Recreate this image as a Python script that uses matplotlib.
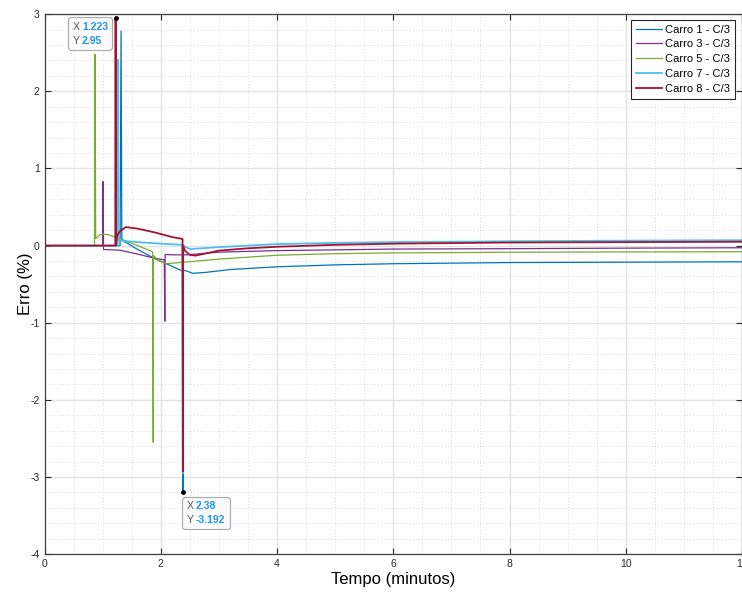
import matplotlib
matplotlib.use("Agg")
import matplotlib.pyplot as plt
from matplotlib.ticker import MultipleLocator
from matplotlib.offsetbox import TextArea, HPacker, VPacker, AnnotationBbox

plt.rcParams['font.family'] = ['Liberation Sans', 'DejaVu Sans']
plt.rcParams['axes.unicode_minus'] = False

# tempo (minutos) / erro (%)
t_c1 = [0, 1.30, 1.317, 1.33, 1.36, 1.6, 1.9, 2.2, 2.37, 2.375, 2.38, 2.385, 2.45, 2.55,
        2.8, 3.2, 4.0, 5.0, 6.0, 8.0, 10.0, 12.0]
e_c1 = [0, 0, 2.78, 0.09, 0.06, -0.05, -0.17, -0.27, -0.33, -0.33, -3.192, -0.32, -0.33, -0.36,
        -0.345, -0.31, -0.275, -0.25, -0.235, -0.22, -0.215, -0.21]

t_c3 = [0, 1.0, 1.007, 1.015, 1.3, 1.6, 1.87, 2.06, 2.07, 2.075, 2.2, 2.45, 3.0, 4.0, 5.0,
        6.0, 8.0, 10.0, 12.0]
e_c3 = [0, 0, 0.83, -0.05, -0.06, -0.11, -0.16, -0.185, -0.98, -0.115, -0.12, -0.12, -0.085,
        -0.065, -0.055, -0.045, -0.04, -0.033, -0.028]

t_c5 = [0, 0.86, 0.87, 0.88, 0.95, 1.0, 1.1, 1.3, 1.5, 1.7, 1.86, 1.87, 1.875, 1.95, 2.1,
        2.4, 3.0, 4.0, 5.0, 6.0, 8.0, 10.0, 12.0]
e_c5 = [0, 0, 2.48, 0.09, 0.14, 0.15, 0.14, 0.09, 0.03, -0.03, -0.08, -2.55, -0.13, -0.19,
        -0.235, -0.215, -0.175, -0.125, -0.105, -0.095, -0.086, -0.082, -0.08]

t_c7 = [0, 0.005, 1.26, 1.265, 1.27, 1.35, 1.7, 2.0, 2.37, 2.38, 2.385, 2.5, 2.7, 3.0,
        4.0, 5.0, 6.0, 8.0, 10.0, 12.0]
e_c7 = [-0.29, 0, 0, 2.41, 0.08, 0.06, 0.04, 0.025, 0.01, -2.95, 0.0, -0.045, -0.035, -0.02,
        0.02, 0.035, 0.045, 0.056, 0.064, 0.07]

t_c8 = [0, 0.005, 1.218, 1.223, 1.228, 1.25, 1.3, 1.4, 1.6, 1.9, 2.2, 2.37, 2.375, 2.38,
        2.385, 2.42, 2.5, 2.6, 3.0, 3.5, 4.0, 5.0, 6.0, 8.0, 10.0, 12.0]
e_c8 = [-0.23, 0, 0, 2.95, 0.0, 0.13, 0.19, 0.24, 0.22, 0.17, 0.11, 0.087, 0.087, -2.93,
        0.0, -0.07, -0.12, -0.13, -0.065, -0.035, -0.015, 0.01, 0.025, 0.04, 0.045, 0.05]

series = [
    ("Carro 1 - C/3", t_c1, e_c1, "#0072BD", 0.9),
    ("Carro 3 - C/3", t_c3, e_c3, "#7E2F8E", 0.9),
    ("Carro 5 - C/3", t_c5, e_c5, "#77AC30", 0.9),
    ("Carro 7 - C/3", t_c7, e_c7, "#4DBEEE", 1.3),
    ("Carro 8 - C/3", t_c8, e_c8, "#A2142F", 1.3),
]

tips = [(1.223, 2.95, "1.223", "2.95", (1, 1), (-5.5, -2.5)),
        (2.38, -3.192, "2.38", "-3.192", (0, 1), (2.5, -6.6))]

fig = plt.figure(figsize=(7.42, 5.92), dpi=100)
ax = fig.add_axes([0.06, 0.064, 0.94, 0.912])

for name, t, e, c, lw in series:
    ax.plot(t, e, color=c, lw=lw, label=name)

ax.set_xlim(0, 12)
ax.set_ylim(-4, 3)
ax.xaxis.set_major_locator(MultipleLocator(2))
ax.xaxis.set_minor_locator(MultipleLocator(0.5))
ax.yaxis.set_major_locator(MultipleLocator(1))
ax.yaxis.set_minor_locator(MultipleLocator(0.2))
ax.grid(True, which='major', color='#e3e3e3', lw=1.0)
ax.grid(True, which='minor', color='#cfcfcf', lw=0.6, ls=(0, (1, 2.5)))
ax.set_axisbelow(True)
ax.tick_params(which='major', direction='in', length=4, width=0.8, labelsize=7.5,
               colors='#262626', top=True, right=True)
ax.tick_params(which='minor', length=0)
for sp in ax.spines.values():
    sp.set_color('#404040')
    sp.set_linewidth(0.9)

ax.set_xlabel("Tempo (minutos)", fontsize=12, labelpad=2)
ax.set_ylabel("Erro (%)", fontsize=12, labelpad=-2)

leg = ax.legend(loc='upper right', bbox_to_anchor=(0.99, 0.99), fontsize=8, frameon=True,
                fancybox=False, edgecolor='#262626', framealpha=1, handlelength=2.4,
                handletextpad=0.25, labelspacing=0.43, borderpad=0.45, borderaxespad=0)
leg.get_frame().set_linewidth(0.8)

for x, y, xs, ys, align, off in tips:
    ax.plot([x], [y], 'o', color='k', ms=2.5, zorder=5)
    rows = []
    for k, v in (("X", xs), ("Y", ys)):
        rows.append(HPacker(children=[
            TextArea(k, textprops=dict(color='#555555', fontsize=7.5)),
            TextArea(v, textprops=dict(color='#1e96f0', fontsize=7.5, fontweight='bold'))],
            align='baseline', pad=0, sep=2))
    box = VPacker(children=rows, align='left', pad=0, sep=3)
    ab = AnnotationBbox(box, (x, y), xybox=off, xycoords='data', boxcoords='offset points',
                        box_alignment=align, frameon=True,
                        bboxprops=dict(boxstyle='round,pad=0.3,rounding_size=0.2',
                                       fc='#fafafc', ec='#a8a8a8', lw=0.8))
    ax.add_artist(ab)

fig.savefig("out.png", dpi=100)
